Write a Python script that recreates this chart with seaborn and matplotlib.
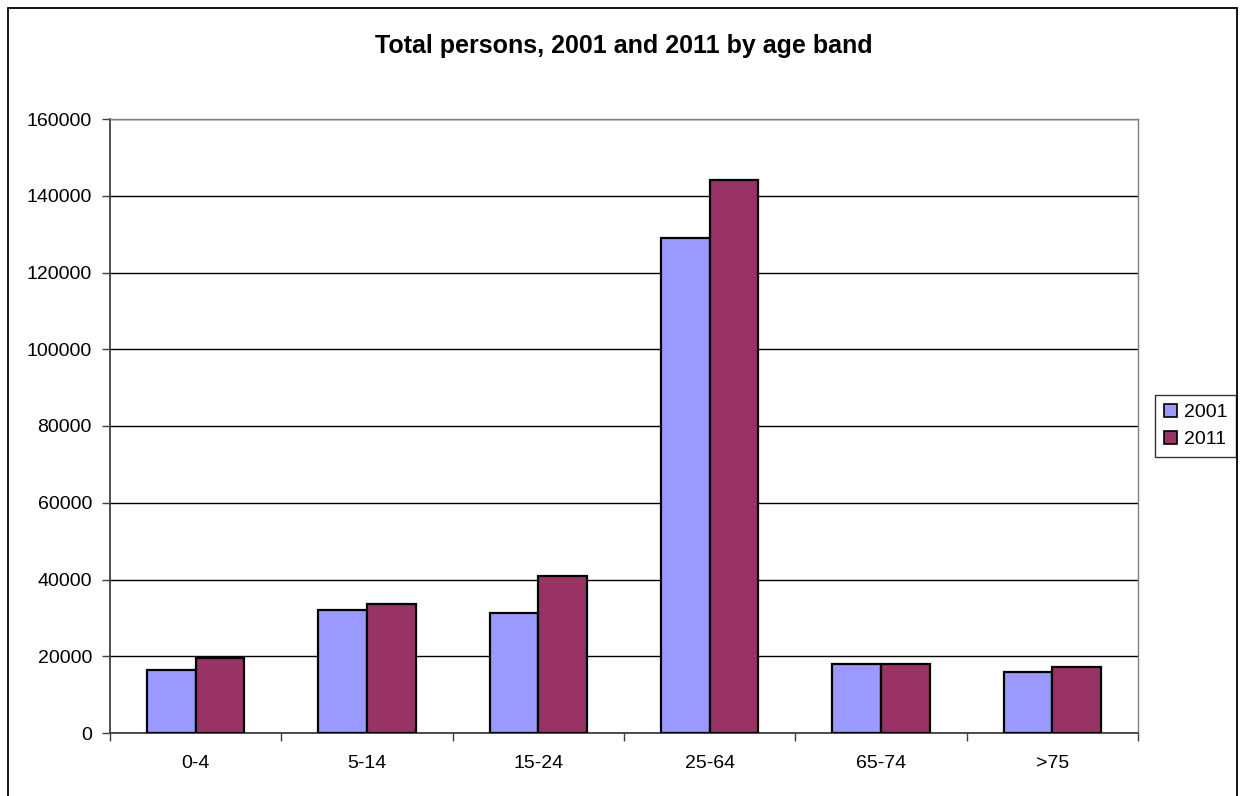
import matplotlib
matplotlib.use("Agg")
import matplotlib.pyplot as plt
import seaborn as sns
import pandas as pd
import numpy as np
from matplotlib.patches import Rectangle
from matplotlib.ticker import FixedLocator, NullFormatter, FixedFormatter

# Population counts by age band
age_bands = ["0-4", "5-14", "15-24", "25-64", "65-74", ">75"]
persons_2001 = [16300, 32100, 31300, 129100, 17900, 15800]
persons_2011 = [19600, 33700, 40900, 144000, 17900, 17100]
years = ["2001", "2011"]
y_ticks = [0, 20000, 40000, 60000, 80000, 100000, 120000, 140000, 160000]

df = pd.DataFrame({
    "Age band": age_bands * 2,
    "Year": [years[0]] * len(age_bands) + [years[1]] * len(age_bands),
    "Persons": persons_2001 + persons_2011,
})

sns.set_theme(style="white")
plt.rcParams["font.family"] = ["Liberation Sans", "DejaVu Sans"]
plt.rcParams["text.color"] = "black"
plt.rcParams["xtick.labelcolor"] = "black"
plt.rcParams["ytick.labelcolor"] = "black"

W, H = 1247, 796
fig = plt.figure(figsize=(W / 100, H / 100), dpi=100)
ax = fig.add_axes([110 / W, 1 - 733 / H, (1138 - 110) / W, (733 - 119) / H])

palette = {"2001": "#9999FF", "2011": "#993366"}
sns.barplot(data=df, x="Age band", y="Persons", hue="Year", order=age_bands,
            hue_order=years, palette=palette, width=0.57, edgecolor="black",
            linewidth=1.6, saturation=1, ax=ax, legend=False, zorder=3)

ax.set_xlim(-0.5, len(age_bands) - 0.5)
ax.set_ylim(0, 160000)
ax.set_xlabel("")
ax.set_ylabel("")

# Horizontal gridlines
ax.set_yticks(y_ticks)
ax.set_yticklabels([str(v) for v in y_ticks], fontsize=14)
ax.yaxis.grid(True, color="black", linewidth=1.0, zorder=0)
ax.xaxis.grid(False)
ax.set_axisbelow(True)
ax.tick_params(axis="y", which="major", direction="out", length=6, width=1,
               color="#404040", pad=7, left=True)

# Category ticks at boundaries, labels at centers
ax.xaxis.set_major_locator(FixedLocator(np.arange(-0.5, len(age_bands) + 0.5, 1)))
ax.xaxis.set_major_formatter(NullFormatter())
ax.xaxis.set_minor_locator(FixedLocator(np.arange(len(age_bands))))
ax.xaxis.set_minor_formatter(FixedFormatter(age_bands))
ax.tick_params(axis="x", which="major", direction="out", length=6, width=1,
               color="#404040", bottom=True)
ax.tick_params(axis="x", which="minor", length=0, pad=16, labelsize=14)

for side in ["left", "bottom"]:
    ax.spines[side].set_color("#404040")
    ax.spines[side].set_linewidth(1.3)
for side in ["right", "top"]:
    ax.spines[side].set_color("#808080")
    ax.spines[side].set_linewidth(1.0)

# Legend with square keys
handles = [Rectangle((0, 0), 1, 1, facecolor=palette[y], edgecolor="black", linewidth=1.2)
           for y in years]
leg = ax.legend(handles, years, loc="center left", bbox_to_anchor=(1.017, 0.5),
                fontsize=14, frameon=True, fancybox=False, handlelength=0.65,
                handleheight=0.65, handletextpad=0.35, borderpad=0.45,
                labelspacing=0.5, borderaxespad=0)
leg.get_frame().set_edgecolor("black")
leg.get_frame().set_linewidth(1.0)

# Title
fig.text(0.5, 1 - 46 / H, "Total persons, 2001 and 2011 by age band",
         ha="center", va="center", fontsize=18, fontweight="bold")

# Outer chart frame
fig.patches.append(Rectangle((8 / W, -0.05), (1237 - 8) / W, 1.05 - 8 / H,
                             transform=fig.transFigure, fill=False,
                             edgecolor="black", linewidth=1.3))

fig.savefig("out.png", dpi=100)
